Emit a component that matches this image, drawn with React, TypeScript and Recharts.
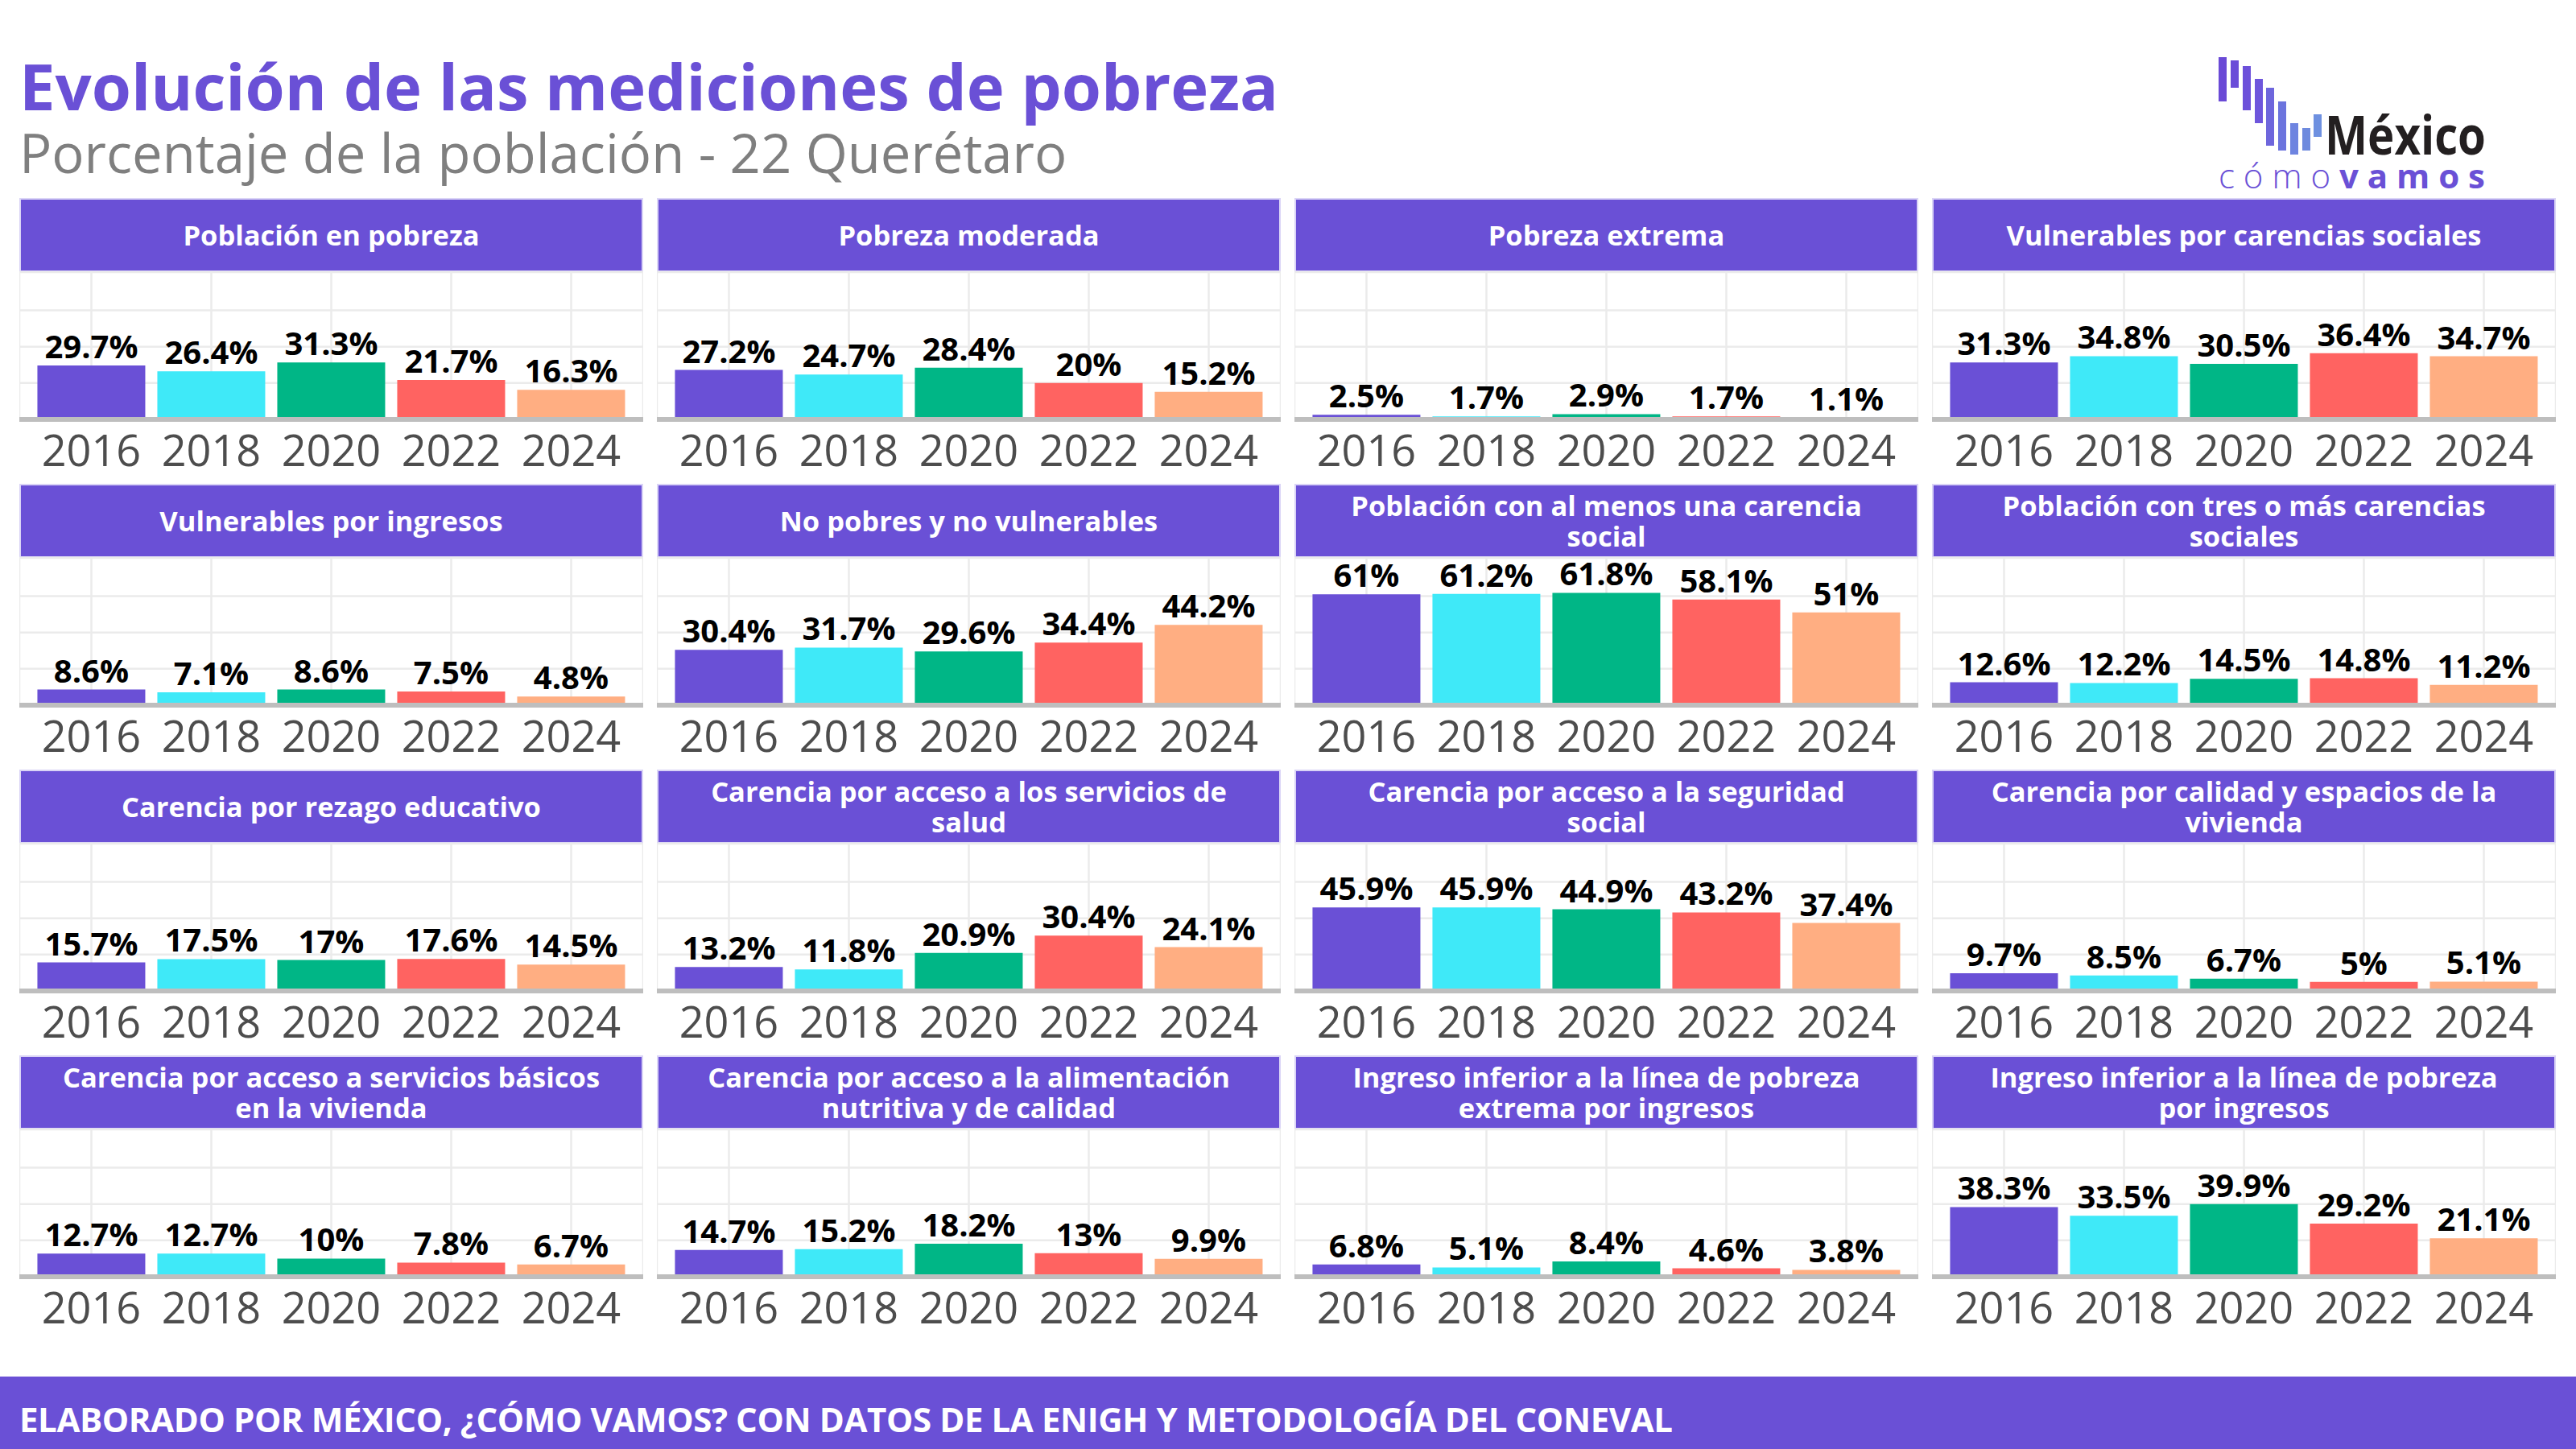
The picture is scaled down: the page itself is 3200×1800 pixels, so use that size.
import React from 'react';
import { BarChart, Bar, XAxis, YAxis, CartesianGrid, LabelList, Cell } from 'recharts';

const YEARS = ['2016', '2018', '2020', '2022', '2024'];
const YEAR_COLORS = ['#6A50D6', '#3FE9F8', '#00B686', '#FF6361', '#FFAE82'];

// porcentajes por indicador, en el orden de YEARS
const POBREZA = [29.7, 26.4, 31.3, 21.7, 16.3];
const POBREZA_MODERADA = [27.2, 24.7, 28.4, 20, 15.2];
const POBREZA_EXTREMA = [2.5, 1.7, 2.9, 1.7, 1.1];
const VULN_CARENCIAS = [31.3, 34.8, 30.5, 36.4, 34.7];
const VULN_INGRESOS = [8.6, 7.1, 8.6, 7.5, 4.8];
const NO_POBRES = [30.4, 31.7, 29.6, 34.4, 44.2];
const UNA_CARENCIA = [61, 61.2, 61.8, 58.1, 51];
const TRES_CARENCIAS = [12.6, 12.2, 14.5, 14.8, 11.2];
const REZAGO_EDUCATIVO = [15.7, 17.5, 17, 17.6, 14.5];
const SERVICIOS_SALUD = [13.2, 11.8, 20.9, 30.4, 24.1];
const SEGURIDAD_SOCIAL = [45.9, 45.9, 44.9, 43.2, 37.4];
const CALIDAD_VIVIENDA = [9.7, 8.5, 6.7, 5, 5.1];
const SERVICIOS_BASICOS = [12.7, 12.7, 10, 7.8, 6.7];
const ALIMENTACION = [14.7, 15.2, 18.2, 13, 9.9];
const LINEA_EXTREMA = [6.8, 5.1, 8.4, 4.6, 3.8];
const LINEA_POBREZA = [38.3, 33.5, 39.9, 29.2, 21.1];

const PANEL_TITLES = [
  'Población en pobreza',
  'Pobreza moderada',
  'Pobreza extrema',
  'Vulnerables por carencias sociales',
  'Vulnerables por ingresos',
  'No pobres y no vulnerables',
  'Población con al menos una carencia\nsocial',
  'Población con tres o más carencias\nsociales',
  'Carencia por rezago educativo',
  'Carencia por acceso a los servicios de\nsalud',
  'Carencia por acceso a la seguridad\nsocial',
  'Carencia por calidad y espacios de la\nvivienda',
  'Carencia por acceso a servicios básicos\nen la vivienda',
  'Carencia por acceso a la alimentación\nnutritiva y de calidad',
  'Ingreso inferior a la línea de pobreza\nextrema por ingresos',
  'Ingreso inferior a la línea de pobreza\npor ingresos',
];

const PANEL_VALUES = [
  POBREZA, POBREZA_MODERADA, POBREZA_EXTREMA, VULN_CARENCIAS,
  VULN_INGRESOS, NO_POBRES, UNA_CARENCIA, TRES_CARENCIAS,
  REZAGO_EDUCATIVO, SERVICIOS_SALUD, SEGURIDAD_SOCIAL, CALIDAD_VIVIENDA,
  SERVICIOS_BASICOS, ALIMENTACION, LINEA_EXTREMA, LINEA_POBREZA,
];

const FONT = '"Open Sans", "Noto Sans", sans-serif';
const PURPLE = '#6A50D6';

const COL_X = 24;
const COL_STEP = 792;
const PANEL_W = 775;
const ROW_Y = 246;
const ROW_STEP = 355;
const STRIP_H = 92;
const PLOT_H = 183;
const AXIS_H = 78;
// espacio extra sobre el área de barras para que las etiquetas altas no se corten
const TOP_ROOM = 24;

interface PanelProps {
  title: string;
  values: number[];
  left: number;
  top: number;
}

const Panel: React.FC<PanelProps> = ({ title, values, left, top }) => {
  const data = YEARS.map((year, i) => ({ year, value: values[i] }));
  return (
    <div style={{ position: 'absolute', left, top, width: PANEL_W }}>
      <div
        style={{
          height: STRIP_H,
          boxSizing: 'border-box',
          background: PURPLE,
          border: '2px solid #DAD4F6',
          color: '#fff',
          fontWeight: 700,
          fontSize: 34.5,
          lineHeight: '38px',
          display: 'flex',
          alignItems: 'center',
          justifyContent: 'center',
          textAlign: 'center',
          whiteSpace: 'pre-line',
        }}
      >
        {title}
      </div>
      <div style={{ position: 'relative', marginTop: -TOP_ROOM }}>
        <BarChart
          width={PANEL_W}
          height={TOP_ROOM + PLOT_H + AXIS_H}
          data={data}
          margin={{ top: TOP_ROOM, right: 0, bottom: 0, left: 0 }}
          barCategoryGap="5%"
        >
          <CartesianGrid stroke="#EBEBEB" strokeWidth={2.5} />
          <YAxis hide domain={[0, 81]} ticks={[0, 20, 40, 60]} />
          <XAxis
            dataKey="year"
            interval={0}
            padding={{ left: 15, right: 15 }}
            axisLine={{ stroke: '#BEBEBE', strokeWidth: 6 }}
            tickLine={false}
            tickSize={0}
            tickMargin={20}
            height={AXIS_H}
            tick={{ fontSize: 54, fill: '#4D4D4D', fontFamily: FONT }}
          />
          <Bar dataKey="value" isAnimationActive={false}>
            {data.map((d, i) => (
              <Cell key={d.year} fill={YEAR_COLORS[i]} />
            ))}
            <LabelList
              dataKey="value"
              position="top"
              offset={9}
              formatter={(v: any) => `${v}%`}
              fill="#000"
              fontSize={40}
              fontWeight={700}
              fontFamily={FONT}
            />
          </Bar>
        </BarChart>
      </div>
    </div>
  );
};

// barras del logotipo: [x, y, alto]
const LOGO_BARS = [
  [16, 11, 55], [31, 15, 34], [46, 22, 55], [61, 38, 55], [75, 49, 72],
  [90, 66, 61], [105, 93, 39], [120, 99, 28], [134, 82, 28],
];
const LOGO_COLORS = ['#6A4AD6', '#6A4CD8', '#6C50DA', '#6E56DC', '#6E66DC', '#6C74DE', '#6E84E0', '#6E8ADE', '#6E90E0'];

const Logo: React.FC = () => (
  <svg width={420} height={200} style={{ position: 'absolute', left: 2740, top: 50 }}>
    <g transform="translate(0,10)">
      {LOGO_BARS.map(([x, y, h], i) => (
        <rect key={i} x={x} y={y} width={10} height={h} fill={LOGO_COLORS[i]} />
      ))}
      <text x={148} y={132} fontFamily={FONT} fontWeight={700} fontSize={66} fill="#231F20" textLength={200} lengthAdjust="spacingAndGlyphs">
        México
      </text>
      <text x={16} y={174} fontFamily={FONT} fontSize={42} fill={PURPLE} textLength={331} lengthAdjust="spacing">
        <tspan fontWeight={300}>cómo</tspan>
        <tspan fontWeight={700}>vamos</tspan>
      </text>
    </g>
  </svg>
);

export default function App() {
  return (
    <div
      style={{
        position: 'absolute',
        left: 0,
        top: 0,
        width: 3200,
        height: 1800,
        background: '#fff',
        fontFamily: FONT,
        overflow: 'hidden',
      }}
    >
      <div style={{ position: 'absolute', left: 24, top: 66, fontSize: 79.5, lineHeight: '80px', fontWeight: 700, color: PURPLE, whiteSpace: 'nowrap' }}>
        Evolución de las mediciones de pobreza
      </div>
      <div style={{ position: 'absolute', left: 24, top: 156, fontSize: 67, lineHeight: '67px', color: '#7F7F7F', whiteSpace: 'nowrap' }}>
        Porcentaje de la población - 22 Querétaro
      </div>
      <Logo />
      {PANEL_TITLES.map((title, i) => (
        <Panel
          key={title}
          title={title}
          values={PANEL_VALUES[i]}
          left={COL_X + (i % 4) * COL_STEP}
          top={ROW_Y + Math.floor(i / 4) * ROW_STEP}
        />
      ))}
      <div
        style={{
          position: 'absolute',
          left: 0,
          top: 1710,
          width: 3200,
          height: 90,
          background: PURPLE,
        }}
      />
      <div style={{ position: 'absolute', left: 24, top: 1742, fontSize: 42, lineHeight: '42px', fontWeight: 700, color: '#fff', whiteSpace: 'nowrap', letterSpacing: -0.4 }}>
        ELABORADO POR MÉXICO, ¿CÓMO VAMOS? CON DATOS DE LA ENIGH Y METODOLOGÍA DEL CONEVAL
      </div>
    </div>
  );
}
